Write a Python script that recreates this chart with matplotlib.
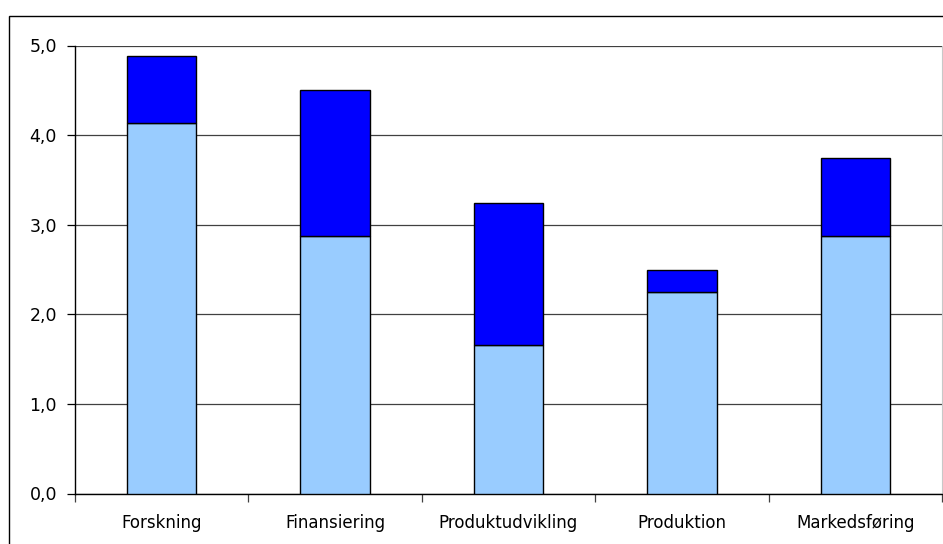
import matplotlib
import matplotlib.pyplot as plt
from matplotlib.patches import Rectangle
import numpy as np

matplotlib.use("Agg")
plt.rcParams["font.family"] = ["DejaVu Sans"]

categories = ["Forskning", "Finansiering", "Produktudvikling", "Produktion", "Markedsføring"]
lower = [4.13, 2.87, 1.66, 2.25, 2.87]
upper = [0.75, 1.63, 1.58, 0.25, 0.87]
y_ticks = [0, 1, 2, 3, 4, 5]
y_labels = ["0,0", "1,0", "2,0", "3,0", "4,0", "5,0"]

W, H = 943, 544
fig = plt.figure(figsize=(W / 100, H / 100), dpi=100)
fig.patch.set_facecolor("white")

# outer chart border (cropped on the right and bottom)
fig.patches.append(Rectangle((8.5 / W, -0.1), 1.2, 1.1 - 15.5 / H,
                             transform=fig.transFigure, fill=False,
                             edgecolor="black", linewidth=1.0))

ax = fig.add_axes([75 / W, 50.5 / H, 867 / W, 448 / H])
x = np.arange(len(categories))
ax.bar(x, lower, width=0.4, color="#99CCFF", edgecolor="black", linewidth=1.0, zorder=3)
ax.bar(x, upper, width=0.4, bottom=lower, color="#0000FF", edgecolor="black", linewidth=1.0, zorder=3)

ax.set_xlim(-0.5, len(categories) - 0.5)
ax.set_ylim(0, 5)
ax.set_yticks(y_ticks)
ax.set_yticklabels(y_labels, fontsize=12.5)
ax.yaxis.grid(True, color="#404040", linewidth=0.9)
ax.set_axisbelow(True)

ax.set_xticks(x)
ax.set_xticklabels(categories, fontsize=12)
ax.set_xticks(np.arange(-0.5, len(categories)), minor=True)
ax.tick_params(axis="x", which="major", length=0, pad=15)
ax.tick_params(axis="x", which="minor", length=6, width=0.9, color="#404040")
ax.tick_params(axis="y", length=6, width=0.9, pad=7)

ax.spines["top"].set_visible(False)
ax.spines["right"].set_color("#c8c8c8")
for s in ("left", "bottom"):
    ax.spines[s].set_color("black")
    ax.spines[s].set_linewidth(1.0)

fig.savefig("out.png", dpi=100)
